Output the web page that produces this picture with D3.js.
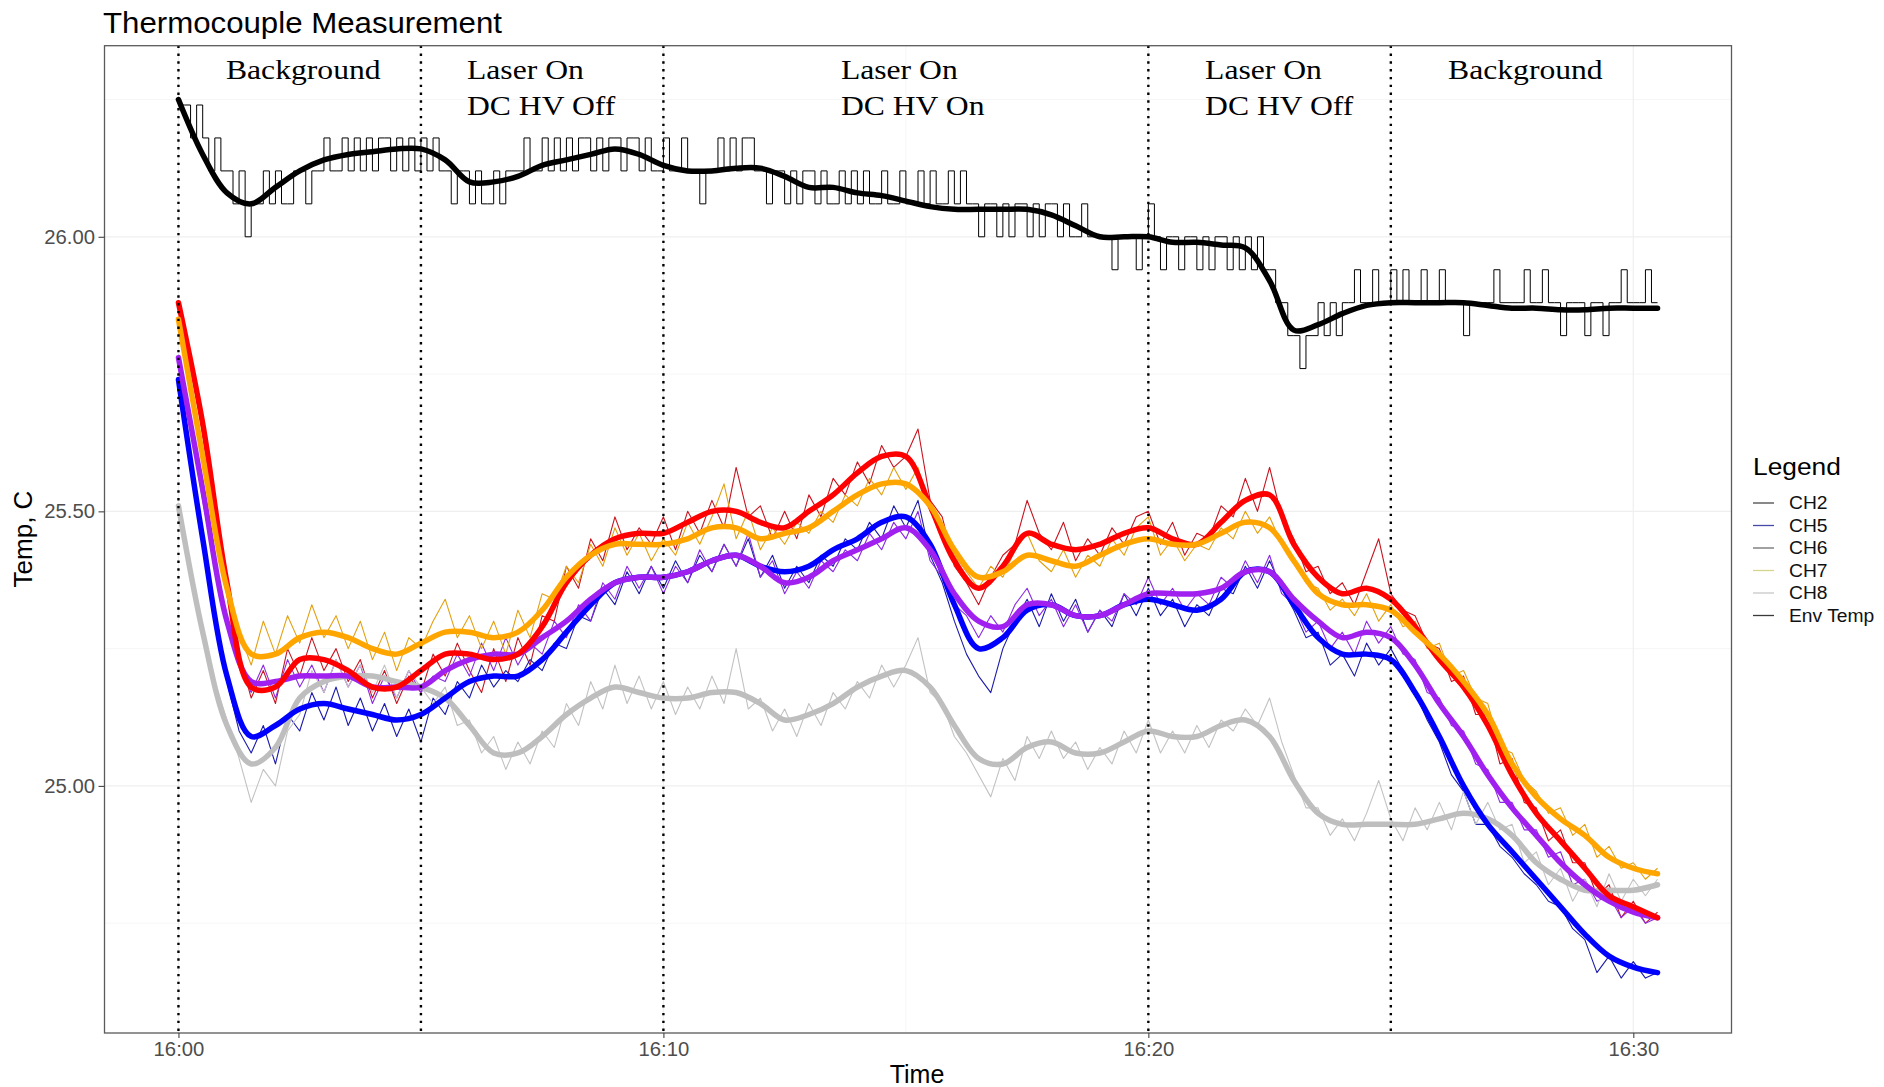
<!DOCTYPE html>
<html>
<head>
<meta charset="utf-8">
<script src="https://cdn.jsdelivr.net/npm/d3@7"></script>
<style>
  html, body { margin: 0; padding: 0; background: #fff; }
  svg { display: block; font-family: "Liberation Sans", Arial, sans-serif; }
</style>
</head>
<body>
<div id="chart"></div>
<script>
// ---- data: minutes after 16:00, temperature in C ----
const channels = ["CH2", "CH5", "CH6", "CH7", "CH8", "Env Temp"];
const smoothStep = 0.5;   // fitted curves, one value every 30 s
const rawStep = 0.25;     // raw thermocouple readings, one value every 15 s
const envStep = 0.125;    // raw ambient readings, one value every 7.5 s

const ch2Smooth = [25.88, 25.66, 25.37, 25.18, 25.18, 25.23, 25.23, 25.21, 25.18, 25.18,
  25.21, 25.24, 25.24, 25.23, 25.24, 25.29, 25.37, 25.42, 25.45, 25.46,
  25.46, 25.48, 25.50, 25.50, 25.48, 25.47, 25.50, 25.53, 25.57, 25.60,
  25.60, 25.51, 25.41, 25.36, 25.40, 25.46, 25.44, 25.43, 25.44, 25.46,
  25.47, 25.45, 25.44, 25.48, 25.52, 25.53, 25.44, 25.38, 25.35, 25.36,
  25.34, 25.29, 25.23, 25.18, 25.11, 25.02, 24.95, 24.90, 24.85, 24.80,
  24.78, 24.76];
const ch5Smooth = [25.74, 25.45, 25.20, 25.09, 25.11, 25.14, 25.15, 25.14, 25.13, 25.12,
  25.13, 25.16, 25.19, 25.20, 25.20, 25.23, 25.28, 25.33, 25.37, 25.38,
  25.38, 25.39, 25.41, 25.42, 25.40, 25.39, 25.40, 25.43, 25.45, 25.48,
  25.49, 25.44, 25.33, 25.25, 25.27, 25.32, 25.33, 25.31, 25.31, 25.33,
  25.34, 25.33, 25.32, 25.34, 25.39, 25.39, 25.33, 25.27, 25.24, 25.24,
  25.23, 25.17, 25.09, 25.00, 24.93, 24.88, 24.83, 24.78, 24.73, 24.69,
  24.67, 24.66];
const ch6Smooth = [25.78, 25.54, 25.30, 25.19, 25.19, 25.20, 25.20, 25.20, 25.18, 25.18,
  25.18, 25.21, 25.23, 25.24, 25.24, 25.27, 25.30, 25.34, 25.37, 25.38,
  25.38, 25.39, 25.41, 25.42, 25.40, 25.37, 25.38, 25.41, 25.43, 25.45,
  25.47, 25.43, 25.35, 25.30, 25.29, 25.33, 25.33, 25.31, 25.31, 25.33,
  25.35, 25.35, 25.35, 25.36, 25.39, 25.39, 25.34, 25.30, 25.27, 25.28,
  25.27, 25.22, 25.15, 25.09, 25.02, 24.96, 24.91, 24.86, 24.82, 24.79,
  24.77, 24.76];
const ch7Smooth = [25.85, 25.60, 25.36, 25.24, 25.24, 25.27, 25.28, 25.27, 25.25, 25.24,
  25.26, 25.28, 25.28, 25.27, 25.28, 25.32, 25.38, 25.42, 25.44, 25.44,
  25.44, 25.45, 25.47, 25.47, 25.45, 25.46, 25.47, 25.50, 25.53, 25.55,
  25.55, 25.51, 25.43, 25.38, 25.39, 25.42, 25.41, 25.40, 25.42, 25.44,
  25.45, 25.44, 25.44, 25.46, 25.48, 25.47, 25.41, 25.35, 25.33, 25.33,
  25.32, 25.28, 25.24, 25.19, 25.13, 25.04, 24.98, 24.94, 24.91, 24.87,
  24.85, 24.84];
const ch8Smooth = [25.51, 25.28, 25.11, 25.04, 25.07, 25.16, 25.19, 25.20, 25.20, 25.19,
  25.18, 25.16, 25.11, 25.06, 25.06, 25.09, 25.13, 25.16, 25.18, 25.17,
  25.16, 25.16, 25.17, 25.17, 25.15, 25.12, 25.13, 25.15, 25.18, 25.20,
  25.21, 25.18, 25.11, 25.05, 25.04, 25.07, 25.08, 25.06, 25.06, 25.08,
  25.10, 25.09, 25.09, 25.11, 25.12, 25.09, 25.01, 24.95, 24.93, 24.93,
  24.93, 24.93, 24.94, 24.95, 24.94, 24.91, 24.86, 24.83, 24.81, 24.81,
  24.81, 24.82];
const envSmooth = [26.25, 26.15, 26.08, 26.06, 26.09, 26.12, 26.14, 26.15, 26.155, 26.16,
  26.16, 26.14, 26.10, 26.10, 26.11, 26.13, 26.14, 26.15, 26.16, 26.15,
  26.13, 26.12, 26.12, 26.125, 26.125, 26.11, 26.09, 26.09, 26.08, 26.075,
  26.065, 26.055, 26.05, 26.05, 26.05, 26.05, 26.04, 26.02, 26.0, 26.0,
  26.0, 25.99, 25.99, 25.985, 25.98, 25.92, 25.83, 25.84, 25.86, 25.875,
  25.88, 25.88, 25.88, 25.88, 25.875, 25.87, 25.87, 25.867, 25.867, 25.87,
  25.87, 25.87];

const ch2Raw = [25.88, 25.78, 25.64, 25.50, 25.38, 25.24, 25.16, 25.21, 25.15, 25.25,
  25.20, 25.27, 25.21, 25.25, 25.19, 25.23, 25.16, 25.21, 25.15, 25.20,
  25.17, 25.24, 25.20, 25.26, 25.21, 25.17, 25.25, 25.19, 25.27, 25.22,
  25.31, 25.30, 25.40, 25.36, 25.45, 25.41, 25.49, 25.43, 25.47, 25.44,
  25.49, 25.43, 25.50, 25.46, 25.52, 25.47, 25.58, 25.49, 25.51, 25.45,
  25.50, 25.45, 25.53, 25.49, 25.56, 25.53, 25.59, 25.55, 25.62, 25.58,
  25.60, 25.65, 25.52, 25.49, 25.40, 25.37, 25.33, 25.38, 25.42, 25.44,
  25.52, 25.46, 25.43, 25.48, 25.41, 25.45, 25.42, 25.47, 25.44, 25.49,
  25.50, 25.44, 25.48, 25.42, 25.46, 25.45, 25.51, 25.49, 25.56, 25.50,
  25.58, 25.49, 25.45, 25.39, 25.40, 25.35, 25.37, 25.33, 25.39, 25.45,
  25.35, 25.32, 25.31, 25.26, 25.25, 25.19, 25.20, 25.13, 25.13, 25.04,
  25.05, 24.97, 24.96, 24.90, 24.92, 24.86, 24.86, 24.80, 24.82, 24.76,
  24.79, 24.75, 24.77];
const ch5Raw = [25.74, 25.60, 25.45, 25.31, 25.19, 25.10, 25.06, 25.11, 25.04, 25.13,
  25.10, 25.17, 25.12, 25.18, 25.11, 25.16, 25.10, 25.15, 25.09, 25.14,
  25.08, 25.16, 25.13, 25.19, 25.16, 25.22, 25.18, 25.21, 25.19, 25.23,
  25.21, 25.26, 25.25, 25.31, 25.30, 25.36, 25.33, 25.39, 25.35, 25.40,
  25.36, 25.41, 25.37, 25.42, 25.39, 25.44, 25.40, 25.45, 25.38, 25.42,
  25.36, 25.40, 25.37, 25.42, 25.40, 25.45, 25.43, 25.48, 25.45, 25.51,
  25.47, 25.52, 25.42, 25.37, 25.30, 25.24, 25.20, 25.17, 25.25, 25.30,
  25.34, 25.29, 25.35, 25.30, 25.34, 25.28, 25.32, 25.29, 25.35, 25.31,
  25.36, 25.31, 25.34, 25.29, 25.33, 25.31, 25.36, 25.35, 25.40, 25.36,
  25.41, 25.36, 25.32, 25.27, 25.28, 25.22, 25.24, 25.20, 25.26, 25.22,
  25.25, 25.21, 25.17, 25.12, 25.08, 25.02, 24.99, 24.93, 24.93, 24.89,
  24.87, 24.84, 24.82, 24.79, 24.78, 24.74, 24.72, 24.66, 24.69, 24.65,
  24.68, 24.65, 24.66];
const ch6Raw = [25.78, 25.65, 25.52, 25.40, 25.29, 25.22, 25.17, 25.22, 25.16, 25.23,
  25.18, 25.22, 25.17, 25.23, 25.18, 25.22, 25.15, 25.20, 25.16, 25.21,
  25.17, 25.20, 25.19, 25.24, 25.20, 25.26, 25.21, 25.27, 25.22, 25.26,
  25.24, 25.30, 25.27, 25.33, 25.30, 25.37, 25.34, 25.40, 25.36, 25.40,
  25.35, 25.40, 25.37, 25.43, 25.39, 25.44, 25.40, 25.46, 25.38, 25.41,
  25.35, 25.39, 25.36, 25.41, 25.39, 25.43, 25.41, 25.46, 25.43, 25.48,
  25.45, 25.50, 25.41, 25.38, 25.33, 25.31, 25.27, 25.31, 25.28, 25.33,
  25.36, 25.31, 25.34, 25.29, 25.33, 25.28, 25.32, 25.30, 25.35, 25.33,
  25.38, 25.33, 25.36, 25.32, 25.35, 25.33, 25.38, 25.36, 25.41, 25.37,
  25.42, 25.35, 25.33, 25.28, 25.30, 25.25, 25.28, 25.24, 25.30, 25.26,
  25.29, 25.24, 25.23, 25.17, 25.16, 25.11, 25.10, 25.04, 25.03, 24.97,
  24.97, 24.92, 24.92, 24.87, 24.88, 24.82, 24.83, 24.79, 24.80, 24.76,
  24.78, 24.75, 24.76];
const ch7Raw = [25.85, 25.72, 25.60, 25.48, 25.37, 25.28, 25.22, 25.30, 25.24, 25.31,
  25.26, 25.33, 25.27, 25.31, 25.25, 25.30, 25.23, 25.28, 25.21, 25.27,
  25.25, 25.30, 25.34, 25.27, 25.31, 25.25, 25.30, 25.24, 25.32, 25.27,
  25.35, 25.34, 25.40, 25.37, 25.44, 25.40, 25.47, 25.42, 25.46, 25.41,
  25.45, 25.42, 25.48, 25.44, 25.49, 25.55, 25.45, 25.50, 25.43, 25.47,
  25.44, 25.48, 25.46, 25.50, 25.48, 25.53, 25.51, 25.56, 25.53, 25.58,
  25.54, 25.58, 25.50, 25.47, 25.42, 25.39, 25.36, 25.40, 25.38, 25.43,
  25.46, 25.41, 25.39, 25.43, 25.38, 25.42, 25.40, 25.45, 25.42, 25.47,
  25.49, 25.42, 25.45, 25.41, 25.44, 25.43, 25.47, 25.45, 25.50, 25.46,
  25.49, 25.44, 25.41, 25.37, 25.36, 25.32, 25.34, 25.31, 25.35, 25.30,
  25.33, 25.29, 25.30, 25.25, 25.26, 25.20, 25.21, 25.16, 25.15, 25.07,
  25.06, 25.01, 24.99, 24.95, 24.96, 24.91, 24.93, 24.87, 24.89, 24.85,
  24.86, 24.83, 24.85];
const ch8Raw = [25.51, 25.40, 25.29, 25.19, 25.12, 25.05, 24.97, 25.03, 25.00, 25.10,
  25.13, 25.21, 25.17, 25.23, 25.18, 25.22, 25.17, 25.22, 25.16, 25.21,
  25.18, 25.15, 25.18, 25.11, 25.12, 25.06, 25.09, 25.03, 25.08, 25.04,
  25.10, 25.07, 25.15, 25.11, 25.19, 25.14, 25.22, 25.15, 25.20, 25.14,
  25.19, 25.13, 25.18, 25.14, 25.20, 25.15, 25.25, 25.14, 25.16, 25.10,
  25.14, 25.09, 25.15, 25.11, 25.17, 25.14, 25.19, 25.16, 25.22, 25.18,
  25.22, 25.27, 25.17, 25.15, 25.09, 25.06, 25.02, 24.98, 25.05, 25.01,
  25.09, 25.05, 25.10, 25.05, 25.08, 25.03, 25.07, 25.04, 25.10, 25.06,
  25.12, 25.06, 25.10, 25.06, 25.11, 25.07, 25.12, 25.10, 25.14, 25.11,
  25.16, 25.08, 25.02, 24.96, 24.96, 24.91, 24.94, 24.90, 24.95, 25.01,
  24.94, 24.90, 24.96, 24.92, 24.97, 24.92, 24.99, 24.93, 24.97, 24.92,
  24.93, 24.86, 24.88, 24.82, 24.85, 24.79, 24.83, 24.78, 24.84, 24.79,
  24.83, 24.80, 24.83];
// ambient sensor reads in 0.06 C steps, eight readings per minute
const envRaw = [
  26.24, 26.24, 26.18, 26.24, 26.18, 26.12, 26.18, 26.12,
  26.12, 26.06, 26.12, 26.00, 26.06, 26.06, 26.12, 26.06,
  26.12, 26.06, 26.06, 26.12, 26.12, 26.06, 26.12, 26.12,
  26.18, 26.12, 26.12, 26.18, 26.12, 26.18, 26.12, 26.18,
  26.12, 26.18, 26.18, 26.12, 26.18, 26.12, 26.18, 26.12,
  26.18, 26.12, 26.18, 26.12, 26.12, 26.06, 26.12, 26.12,
  26.06, 26.12, 26.06, 26.06, 26.12, 26.06, 26.12, 26.12,
  26.12, 26.18, 26.12, 26.12, 26.18, 26.12, 26.18, 26.12,
  26.18, 26.12, 26.18, 26.18, 26.12, 26.18, 26.12, 26.18,
  26.18, 26.12, 26.18, 26.18, 26.12, 26.18, 26.12, 26.12,
  26.18, 26.12, 26.12, 26.18, 26.12, 26.12, 26.06, 26.12,
  26.12, 26.18, 26.12, 26.18, 26.12, 26.18, 26.18, 26.12,
  26.12, 26.06, 26.12, 26.12, 26.06, 26.12, 26.06, 26.12,
  26.12, 26.06, 26.12, 26.06, 26.06, 26.12, 26.06, 26.12,
  26.06, 26.12, 26.06, 26.06, 26.12, 26.06, 26.06, 26.12,
  26.06, 26.06, 26.12, 26.06, 26.12, 26.06, 26.06, 26.12,
  26.06, 26.12, 26.06, 26.06, 26.00, 26.06, 26.06, 26.00,
  26.06, 26.00, 26.06, 26.06, 26.00, 26.06, 26.00, 26.06,
  26.06, 26.00, 26.06, 26.00, 26.00, 26.06, 26.00, 26.00,
  26.00, 26.00, 25.94, 26.00, 26.00, 26.00, 25.94, 26.00,
  26.06, 26.00, 25.94, 26.00, 26.00, 25.94, 26.00, 26.00,
  25.94, 26.00, 25.94, 26.00, 26.00, 25.94, 26.00, 25.94,
  26.00, 25.94, 26.00, 25.94, 25.94, 25.88, 25.88, 25.82,
  25.82, 25.76, 25.82, 25.82, 25.88, 25.82, 25.88, 25.82,
  25.88, 25.88, 25.94, 25.88, 25.88, 25.94, 25.88, 25.88,
  25.94, 25.88, 25.94, 25.88, 25.88, 25.94, 25.88, 25.88,
  25.94, 25.88, 25.88, 25.88, 25.82, 25.88, 25.88, 25.88,
  25.88, 25.94, 25.88, 25.88, 25.88, 25.88, 25.94, 25.88,
  25.88, 25.94, 25.88, 25.88, 25.82, 25.88, 25.88, 25.88,
  25.82, 25.88, 25.88, 25.82, 25.88, 25.88, 25.94, 25.88,
  25.88, 25.88, 25.94, 25.88, 25.88];

// phase boundaries and the labels above each phase (minutes after 16:00)
const phaseLines = [0, 5, 10, 20, 25];
const phaseLabelAt = [0.98, 5.95, 13.66, 21.17, 26.18];
const phaseLabelText = [["Background"], ["Laser On", "DC HV Off"], ["Laser On", "DC HV On"],
  ["Laser On", "DC HV Off"], ["Background"]];

const xTicks = [0, 10, 20, 30];
const xMinor = [5, 15, 25];
const yTicks = [25.0, 25.5, 26.0];
const yMinor = [24.75, 25.25, 25.75, 26.25];

// ---- styles ----
const smoothColors = ["#ff0000", "#0000ff", "#a020f0", "#ffa500", "#bebebe", "#000000"];
const rawColors = ["#c81420", "#1c1caa", "#8a2be2", "#e2a010", "#c2c2c2", "#000000"];
const keyColors = ["#4a4a4a", "#4848a8", "#6e6e6e", "#d4d48a", "#c8c8c8", "#3a3a3a"];

const width = 1884, height = 1087;
const panel = { left: 104.5, right: 1731.5, top: 45.7, bottom: 1033 };

const base = new Date(2020, 0, 1, 16, 0, 0);
const toDate = m => new Date(base.getTime() + m * 60000);

const x = d3.scaleTime()
  .domain([toDate(-1.525), toDate(32.025)])
  .range([panel.left, panel.right]);
const y = d3.scaleLinear()
  .domain([24.55, 26.348])
  .range([panel.bottom, panel.top]);

const svg = d3.select("#chart").append("svg")
  .attr("width", width)
  .attr("height", height);

// widen text a bit, the original picture is stretched horizontally
const stretch = (sel, k) => sel.each(function () {
  const w = this.getComputedTextLength();
  d3.select(this).attr("textLength", w * k).attr("lengthAdjust", "spacingAndGlyphs");
});

// title
svg.append("text")
  .attr("x", 103)
  .attr("y", 33)
  .style("font-size", "29px")
  .style("fill", "#000")
  .attr("textLength", 399)
  .attr("lengthAdjust", "spacingAndGlyphs")
  .text("Thermocouple Measurement");

// faint grid
const grid = svg.append("g");
grid.selectAll("line.ym")
  .data(yMinor)
  .join("line")
  .attr("x1", panel.left).attr("x2", panel.right)
  .attr("y1", d => y(d)).attr("y2", d => y(d))
  .attr("stroke", "#f6f6f6").attr("stroke-width", 1);
grid.selectAll("line.yM")
  .data(yTicks)
  .join("line")
  .attr("x1", panel.left).attr("x2", panel.right)
  .attr("y1", d => y(d)).attr("y2", d => y(d))
  .attr("stroke", "#efefef").attr("stroke-width", 1.2);
grid.selectAll("line.xm")
  .data(xMinor)
  .join("line")
  .attr("y1", panel.top).attr("y2", panel.bottom)
  .attr("x1", d => x(toDate(d))).attr("x2", d => x(toDate(d)))
  .attr("stroke", "#f6f6f6").attr("stroke-width", 1);
grid.selectAll("line.xM")
  .data(xTicks)
  .join("line")
  .attr("y1", panel.top).attr("y2", panel.bottom)
  .attr("x1", d => x(toDate(d))).attr("x2", d => x(toDate(d)))
  .attr("stroke", "#efefef").attr("stroke-width", 1.2);

// series objects
const smoothSets = [ch2Smooth, ch5Smooth, ch6Smooth, ch7Smooth, ch8Smooth, envSmooth];
const rawSets = [ch2Raw, ch5Raw, ch6Raw, ch7Raw, ch8Raw, envRaw];
const series = channels.map((name, i) => {
  const step = name === "Env Temp" ? envStep : rawStep;
  return {
    name,
    smooth: smoothSets[i].map((v, k) => ({ t: k * smoothStep, v })),
    raw: rawSets[i].map((v, k) => ({ t: k * step, v })),
    smoothColor: smoothColors[i],
    rawColor: rawColors[i],
    keyColor: keyColors[i]
  };
});

const rawLine = d3.line()
  .x(d => x(toDate(d.t)))
  .y(d => y(d.v));
const stepLine = d3.line()
  .x(d => x(toDate(d.t)))
  .y(d => y(d.v))
  .curve(d3.curveStepAfter);
const smoothLine = d3.line()
  .x(d => x(toDate(d.t)))
  .y(d => y(d.v))
  .curve(d3.curveCatmullRom.alpha(0.5));

// raw readings first, thin
svg.append("g").selectAll("path")
  .data(series)
  .join("path")
  .attr("d", d => d.name === "Env Temp" ? stepLine(d.raw) : rawLine(d.raw))
  .attr("fill", "none")
  .attr("stroke", d => d.rawColor)
  .attr("stroke-width", d => d.name === "Env Temp" ? 1 : 1.1)
  .attr("stroke-linejoin", "round");

// fitted curves on top, thick (drawing order chosen to match overlaps)
const smoothOrder = ["CH8", "CH5", "CH6", "CH2", "CH7", "Env Temp"];
svg.append("g").selectAll("path")
  .data(smoothOrder.map(n => series.find(s => s.name === n)))
  .join("path")
  .attr("d", d => smoothLine(d.smooth))
  .attr("fill", "none")
  .attr("stroke", d => d.smoothColor)
  .attr("stroke-width", 5.5)
  .attr("stroke-linejoin", "round")
  .attr("stroke-linecap", "round");

// dotted phase boundaries
svg.append("g").selectAll("line")
  .data(phaseLines)
  .join("line")
  .attr("x1", d => x(toDate(d))).attr("x2", d => x(toDate(d)))
  .attr("y1", panel.top).attr("y2", panel.bottom)
  .attr("stroke", "#000")
  .attr("stroke-width", 2.4)
  .attr("stroke-dasharray", "2.4,5.4");

// phase labels
const labels = svg.append("g")
  .style("font-family", "'Liberation Serif', 'Times New Roman', serif")
  .style("font-size", "28px")
  .style("fill", "#000");
phaseLabelText.forEach((lines, i) => {
  lines.forEach((txt, j) => {
    labels.append("text")
      .attr("x", x(toDate(phaseLabelAt[i])))
      .attr("y", 79 + j * 36)
      .text(txt)
      .call(stretch, 1.13);
  });
});

// panel border
svg.append("rect")
  .attr("x", panel.left).attr("y", panel.top)
  .attr("width", panel.right - panel.left)
  .attr("height", panel.bottom - panel.top)
  .attr("fill", "none")
  .attr("stroke", "#5a5a5a")
  .attr("stroke-width", 1.3);

// axes
const xAxis = svg.append("g")
  .attr("transform", `translate(0,${panel.bottom})`)
  .call(d3.axisBottom(x)
    .tickValues(xTicks.map(toDate))
    .tickFormat(d3.timeFormat("%H:%M"))
    .tickSize(5)
    .tickPadding(4.5));
const yAxis = svg.append("g")
  .attr("transform", `translate(${panel.left},0)`)
  .call(d3.axisLeft(y)
    .tickValues(yTicks)
    .tickFormat(d3.format(".2f"))
    .tickSize(6)
    .tickPadding(3.5));
[xAxis, yAxis].forEach(a => {
  a.select(".domain").remove();
  a.selectAll(".tick line").attr("stroke", "#444").attr("stroke-width", 1.1);
  a.selectAll(".tick text")
    .style("font-family", "'Liberation Sans', Arial, sans-serif")
    .style("font-size", "19.5px")
    .attr("fill", "#4d4d4d")
    .call(stretch, 1.04);
});

// axis titles
svg.append("text")
  .attr("x", 917)
  .attr("y", 1083)
  .attr("text-anchor", "middle")
  .style("font-size", "25px")
  .text("Time");
svg.append("text")
  .attr("transform", "translate(32,539) rotate(-90)")
  .attr("text-anchor", "middle")
  .style("font-size", "26px")
  .text("Temp, C");

// legend
const legend = svg.append("g");
legend.append("text")
  .attr("x", 1753)
  .attr("y", 475)
  .style("font-size", "23.5px")
  .text("Legend")
  .call(stretch, 1.12);
const items = legend.selectAll("g.item")
  .data(series)
  .join("g")
  .attr("class", "item")
  .attr("transform", (_, i) => `translate(0, ${509 + i * 22.5})`);
items.append("line")
  .attr("x1", 1753).attr("x2", 1774)
  .attr("y1", -6).attr("y2", -6)
  .attr("stroke", d => d.keyColor)
  .attr("stroke-width", 1.3);
items.append("text")
  .attr("x", 1789)
  .attr("y", 0)
  .style("font-size", "17.5px")
  .style("fill", "#111")
  .text(d => d.name)
  .call(stretch, 1.1);
</script>
</body>
</html>
